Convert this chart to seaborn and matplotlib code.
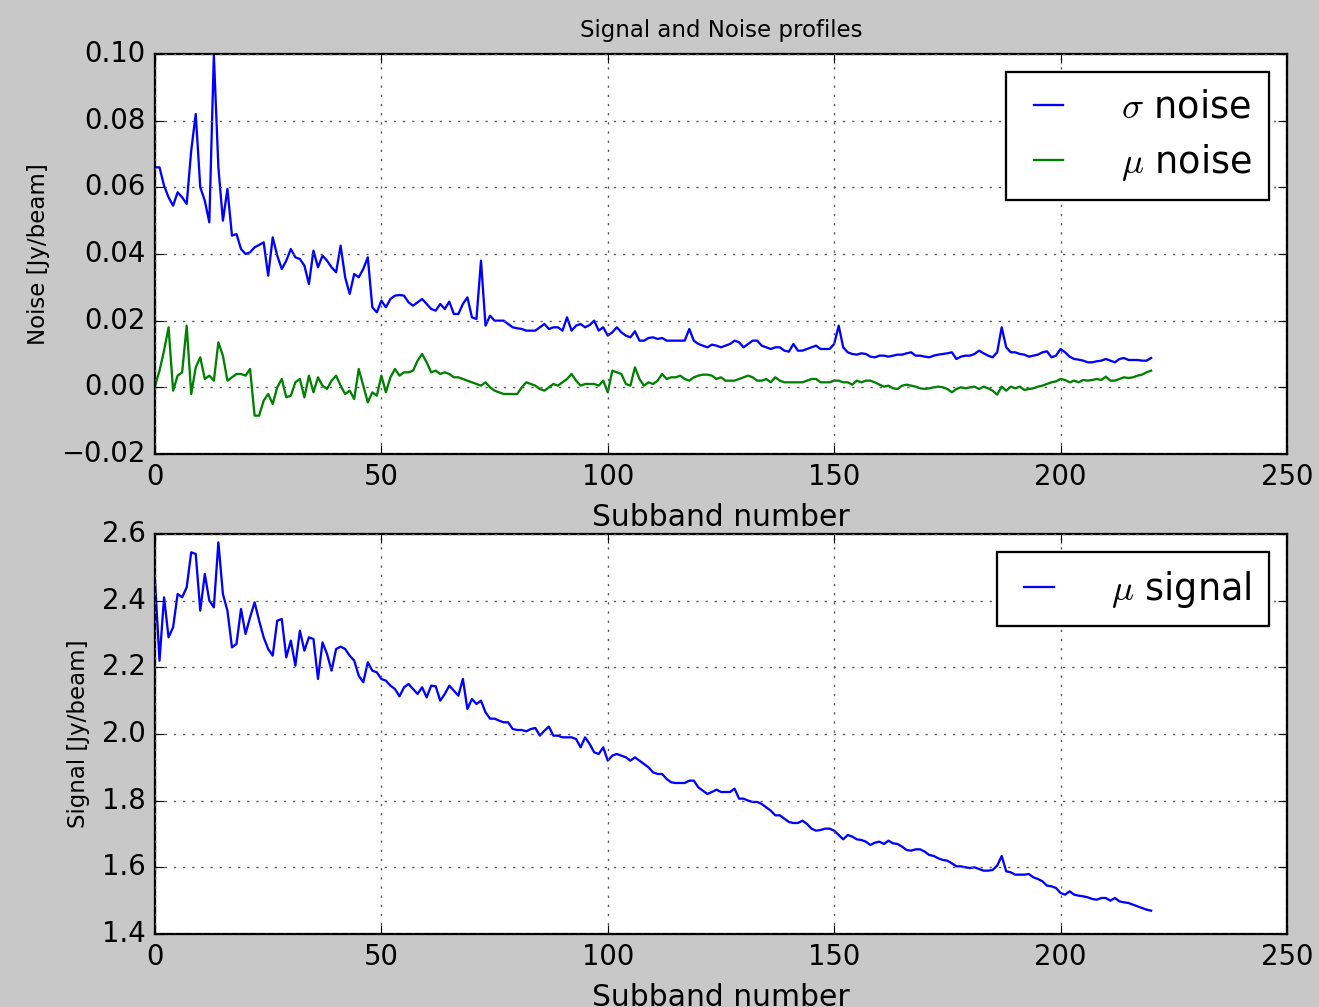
import numpy as np
import pandas as pd
import matplotlib
matplotlib.use("Agg")
import matplotlib.pyplot as plt
import seaborn as sns

# ---------------- data ----------------
subband = list(range(221))

sigma_noise = [
    0.066, 0.066, 0.0605, 0.057, 0.0545, 0.0585, 0.057, 0.055, 0.071, 0.082,
    0.060, 0.056, 0.0495, 0.0997, 0.066, 0.050, 0.0595, 0.0455, 0.046, 0.0415,
    0.040, 0.0405, 0.042, 0.0427, 0.0435, 0.0335, 0.045, 0.0395, 0.0355, 0.038,
    0.0415, 0.039, 0.0385, 0.0365, 0.031, 0.041, 0.036, 0.0395, 0.038, 0.036,
    0.0345, 0.0425, 0.033, 0.028, 0.034, 0.033, 0.0355, 0.039, 0.024, 0.0225,
    0.026, 0.024, 0.0265, 0.0275, 0.0277, 0.0275, 0.0255, 0.0245, 0.0255, 0.0265,
    0.025, 0.0235, 0.023, 0.025, 0.0235, 0.0257, 0.022, 0.022, 0.025, 0.027,
    0.021, 0.0205, 0.038, 0.0185, 0.0215, 0.020, 0.020, 0.020, 0.019, 0.018,
    0.0177, 0.0175, 0.017, 0.017, 0.017, 0.018, 0.019, 0.0175, 0.018, 0.018,
    0.017, 0.021, 0.017, 0.0185, 0.019, 0.018, 0.0187, 0.020, 0.017, 0.018,
    0.0155, 0.0165, 0.018, 0.0165, 0.0155, 0.015, 0.0168, 0.014, 0.014, 0.0148,
    0.015, 0.0145, 0.0148, 0.014, 0.014, 0.014, 0.014, 0.014, 0.0175, 0.014,
    0.013, 0.0125, 0.012, 0.0128, 0.0125, 0.012, 0.0125, 0.013, 0.014, 0.0135,
    0.012, 0.013, 0.014, 0.014, 0.0125, 0.012, 0.0115, 0.012, 0.012, 0.011,
    0.0107, 0.013, 0.011, 0.011, 0.0115, 0.012, 0.0125, 0.0115, 0.0115, 0.0115,
    0.013, 0.0185, 0.012, 0.0105, 0.010, 0.0098, 0.0102, 0.010, 0.0092, 0.009,
    0.0095, 0.0095, 0.0092, 0.0095, 0.0098, 0.0098, 0.0102, 0.0105, 0.0095, 0.0095,
    0.0092, 0.009, 0.0095, 0.0098, 0.010, 0.0102, 0.0105, 0.0085, 0.0092, 0.0095,
    0.0095, 0.010, 0.011, 0.0102, 0.0095, 0.009, 0.0105, 0.018, 0.012, 0.0105,
    0.0105, 0.010, 0.0098, 0.0092, 0.0095, 0.0098, 0.0105, 0.0108, 0.009, 0.0095,
    0.0115, 0.0105, 0.0092, 0.0085, 0.0083, 0.008, 0.0075, 0.0075, 0.0078, 0.008,
    0.0085, 0.008, 0.0075, 0.0085, 0.0088, 0.0082, 0.0082, 0.0082, 0.008, 0.008,
    0.0088,
]

mu_noise = [
    0.0004, 0.005, 0.011, 0.018, -0.001, 0.0035, 0.0045, 0.0185, -0.002, 0.006,
    0.009, 0.0025, 0.0035, 0.002, 0.0135, 0.0095, 0.002, 0.003, 0.004, 0.004,
    0.0035, 0.0055, -0.0085, -0.0085, -0.004, -0.002, -0.005, 0.000, 0.0025, -0.003,
    -0.0025, 0.0015, 0.0025, -0.003, 0.0035, -0.0015, 0.003, 0.0005, -0.0005, 0.002,
    0.0035, 0.0005, -0.002, -0.001, -0.0035, 0.0055, 0.0005, -0.0045, -0.0015, -0.0025,
    0.0035, -0.0015, 0.003, 0.0055, 0.0035, 0.0045, 0.0045, 0.005, 0.008, 0.010,
    0.0075, 0.0045, 0.005, 0.004, 0.0045, 0.004, 0.003, 0.003, 0.0025, 0.002,
    0.0015, 0.001, 0.0005, 0.0015, 0.000, -0.001, -0.0015, -0.002, -0.002, -0.002,
    -0.002, 0.000, 0.0015, 0.001, 0.0005, -0.0005, -0.001, 0.000, 0.001, 0.0005,
    0.0015, 0.0025, 0.004, 0.002, 0.0005, 0.001, 0.001, 0.001, 0.0005, 0.002,
    -0.0015, 0.005, 0.0045, 0.004, 0.001, 0.0005, 0.006, 0.0025, 0.0005, 0.0015,
    0.001, 0.002, 0.004, 0.0025, 0.003, 0.003, 0.0035, 0.0025, 0.002, 0.003,
    0.0035, 0.0038, 0.0038, 0.0035, 0.0025, 0.003, 0.002, 0.002, 0.002, 0.0025,
    0.003, 0.0035, 0.003, 0.002, 0.002, 0.0025, 0.0015, 0.003, 0.002, 0.0015,
    0.0015, 0.0015, 0.0015, 0.0015, 0.002, 0.0025, 0.0025, 0.0015, 0.0015, 0.0015,
    0.002, 0.002, 0.0015, 0.0015, 0.0008, 0.002, 0.0015, 0.002, 0.002, 0.0015,
    0.0008, 0.0002, 0.0005, -0.0003, -0.0005, 0.0005, 0.0008, 0.0005, 0.0002, -0.0003,
    -0.0005, -0.0003, 0.0, 0.0002, 0.0, -0.0005, -0.0015, -0.0005, 0.0, -0.0003,
    0.0, 0.0002, -0.0005, 0.0002, -0.0003, -0.001, -0.0022, 0.0002, -0.001, 0.0002,
    -0.0003, 0.0002, -0.0008, -0.0005, -0.0003, 0.0002, 0.0005, 0.001, 0.0015, 0.0018,
    0.0025, 0.0022, 0.0015, 0.002, 0.0015, 0.0022, 0.002, 0.0022, 0.0025, 0.0022,
    0.0032, 0.002, 0.002, 0.0025, 0.003, 0.0028, 0.003, 0.0035, 0.0038, 0.0045,
    0.005,
]

mu_signal = [
    2.46, 2.22, 2.41, 2.29, 2.32, 2.42, 2.41, 2.44, 2.545, 2.54,
    2.37, 2.48, 2.40, 2.38, 2.575, 2.42, 2.37, 2.26, 2.27, 2.375,
    2.30, 2.35, 2.395, 2.34, 2.29, 2.255, 2.235, 2.34, 2.345, 2.23,
    2.28, 2.205, 2.31, 2.25, 2.29, 2.285, 2.165, 2.275, 2.24, 2.19,
    2.255, 2.262, 2.255, 2.235, 2.22, 2.175, 2.155, 2.215, 2.19, 2.185,
    2.165, 2.16, 2.145, 2.135, 2.113, 2.14, 2.15, 2.135, 2.12, 2.14,
    2.11, 2.145, 2.143, 2.10, 2.12, 2.145, 2.13, 2.115, 2.165, 2.075,
    2.105, 2.09, 2.10, 2.065, 2.046, 2.046, 2.04, 2.035, 2.035, 2.015,
    2.012, 2.012, 2.008, 2.015, 2.018, 1.995, 2.01, 2.022, 1.995, 1.995,
    1.99, 1.99, 1.99, 1.985, 1.96, 1.99, 1.97, 1.945, 1.94, 1.96,
    1.92, 1.935, 1.94, 1.935, 1.93, 1.92, 1.93, 1.92, 1.91, 1.90,
    1.885, 1.88, 1.88, 1.865, 1.855, 1.853, 1.853, 1.853, 1.86, 1.86,
    1.84, 1.83, 1.82, 1.826, 1.833, 1.826, 1.826, 1.826, 1.836, 1.806,
    1.806, 1.80, 1.796, 1.796, 1.79, 1.78, 1.77, 1.756, 1.756, 1.746,
    1.736, 1.733, 1.733, 1.74, 1.73, 1.716, 1.71, 1.712, 1.716, 1.716,
    1.71, 1.697, 1.684, 1.697, 1.692, 1.684, 1.682, 1.677, 1.667, 1.674,
    1.677, 1.67, 1.68, 1.672, 1.67, 1.662, 1.652, 1.65, 1.654, 1.654,
    1.647, 1.637, 1.634, 1.627, 1.622, 1.62, 1.612, 1.603, 1.603, 1.60,
    1.598, 1.60, 1.595, 1.59, 1.59, 1.592, 1.605, 1.634, 1.588, 1.585,
    1.578, 1.578, 1.578, 1.58, 1.57, 1.565, 1.558, 1.545, 1.543, 1.538,
    1.523, 1.518, 1.528, 1.518, 1.515, 1.513, 1.51, 1.505, 1.503, 1.508,
    1.508, 1.50, 1.508, 1.498, 1.495, 1.493, 1.488, 1.483, 1.478, 1.473,
    1.47,
]

noise_labels = [r'$\sigma$ noise', r'$\mu$ noise']
signal_labels = [r'$\mu$ signal']
title_text = 'Signal and Noise profiles'
xlabel_text = 'Subband number'
ylabel_top = 'Noise [Jy/beam]'
ylabel_bottom = 'Signal [Jy/beam]'
noise_yticks = [-0.02, 0.00, 0.02, 0.04, 0.06, 0.08, 0.10]
signal_yticks = [1.4, 1.6, 1.8, 2.0, 2.2, 2.4, 2.6]
xticks = [0, 50, 100, 150, 200, 250]

# ---------------- style ----------------
plt.style.use('classic')
BG = '#c8c8c8'
plt.rcParams['mathtext.fontset'] = 'cm'
plt.rcParams['font.family'] = ['DejaVu Sans']

DPI = 165
fig, (ax1, ax2) = plt.subplots(2, 1, figsize=(1319 / DPI, 1007 / DPI), dpi=DPI)
fig.patch.set_facecolor(BG)
fig.subplots_adjust(left=0.1175, right=0.9757, top=0.9464, bottom=0.0725, hspace=0.2)

df_noise = pd.DataFrame({'subband': subband, 'sigma': sigma_noise, 'mu': mu_noise})
df_signal = pd.DataFrame({'subband': subband, 'signal': mu_signal})

sns.lineplot(data=df_noise, x='subband', y='sigma', ax=ax1, color='b', lw=1.0,
             label=noise_labels[0])
sns.lineplot(data=df_noise, x='subband', y='mu', ax=ax1, color='g', lw=1.0,
             label=noise_labels[1])
sns.lineplot(data=df_signal, x='subband', y='signal', ax=ax2, color='b', lw=1.0,
             label=signal_labels[0])

for ax in (ax1, ax2):
    ax.set_facecolor('white')
    ax.set_xlim(0, 250)
    ax.set_xticks(xticks)
    ax.grid(True, color='0.35', linestyle=':', linewidth=0.6)
    ax.set_xlabel(xlabel_text, fontsize=13)
    ax.tick_params(labelsize=12)
    leg = ax.legend(loc='upper right', fontsize=16, frameon=True, fancybox=False,
                    handlelength=1.4, handletextpad=1.28, borderpad=0.45,
                    labelspacing=0.45)
    leg.get_frame().set_edgecolor('k')

ax1.set_ylim(-0.02, 0.10)
ax1.set_yticks(noise_yticks)
ax1.set_ylabel(ylabel_top, fontsize=10)
ax1.set_title(title_text, fontsize=10, pad=7.5)

ax2.set_ylim(1.4, 2.6)
ax2.set_yticks(signal_yticks)
ax2.set_ylabel(ylabel_bottom, fontsize=10)

fig.savefig('out.png', dpi=DPI, facecolor=BG)
